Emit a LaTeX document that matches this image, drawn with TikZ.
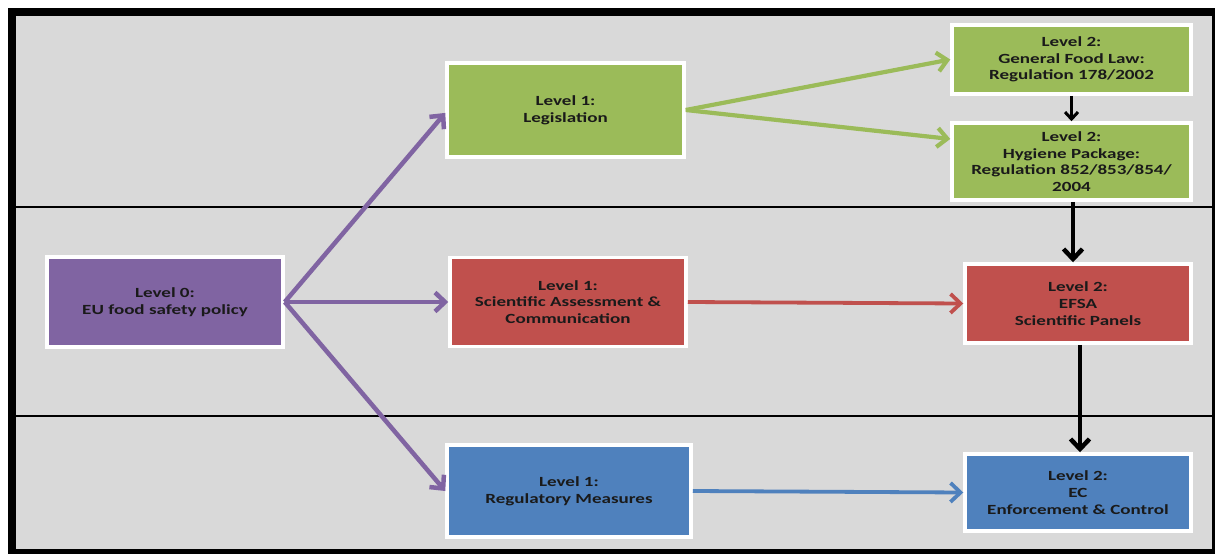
\documentclass[tikz,border=0pt]{standalone}
\usepackage{fontspec}
\setmainfont{Carlito}
\newfontfamily\lblfont[FakeStretch=1.36]{Carlito}
\usetikzlibrary{arrows.meta,shadows,calc}
\definecolor{bggrey}{HTML}{D9D9D9}
\definecolor{cgreen}{HTML}{9BBB59}
\definecolor{cred}{HTML}{C0504D}
\definecolor{cblue}{HTML}{4F81BD}
\definecolor{cpurple}{HTML}{8064A2}
\definecolor{txt}{HTML}{1A1A1A}
\tikzset{
  box/.style={draw=white, line width=3.5pt, inner sep=0pt, align=center,
    font=\lblfont\bfseries\fontsize{14}{16.7}\selectfont, text=txt,
    drop shadow={shadow xshift=1.5pt, shadow yshift=-1.8pt, opacity=0.35, fill=black}},
  conn/.style={line width=#1, -{Straight Barb[length=10pt, width=19pt]}},
  conn/.default=4.5pt,
  divider/.style={line width=2.3pt, black}
}
\begin{document}
\begin{tikzpicture}[x=1pt,y=-1pt]
\useasboundingbox (0,0) rectangle (1215,554);
\fill[white] (0,0) rectangle (1215,554);
\fill[black] (8,8) rectangle (1215,554);
\fill[bggrey] (16,16) rectangle (1212,549);
\draw[divider] (16,207) -- (1212,207);
\draw[divider] (16,416) -- (1212,416);

\node[box, fill=cpurple, minimum width=236pt, minimum height=90pt] (L0) at (165,302) {Level 0:\\EU food safety policy};
\node[box, fill=cgreen, minimum width=237pt, minimum height=94pt] (Leg) at (565.5,110) {Level 1:\\Legislation};
\node[box, fill=cred, minimum width=236pt, minimum height=89pt] (Sci) at (568,302) {Level 1:\\Scientific Assessment \&\\Communication};
\node[box, fill=cblue, minimum width=244pt, minimum height=92pt] (Reg) at (569,491) {Level 1:\\Regulatory Measures};
\node[box, fill=cgreen, minimum width=239pt, minimum height=69pt] (GFL) at (1071.5,59.5) {Level 2:\\General Food Law:\\Regulation 178/2002};
\node[box, fill=cgreen, minimum width=239pt, minimum height=77pt] (Hyg) at (1071.5,161.5) {Level 2:\\Hygiene Package:\\Regulation 852/853/854/\\2004};
\node[box, fill=cred, minimum width=226pt, minimum height=79pt] (EFSA) at (1078,303.5) {Level 2:\\EFSA\\Scientific Panels};
\node[box, fill=cblue, minimum width=226pt, minimum height=77pt] (EC) at (1078,492.5) {Level 2:\\EC\\Enforcement \& Control};

\coordinate (HygIn) at ($(Hyg.north west)!0.22!(Hyg.south west)$);
\coordinate (LegIn) at ($(Leg.north west)!0.53!(Leg.south west)$);

\draw[conn, cpurple] (L0.east) -- (LegIn);
\draw[conn, cpurple] (L0.east) -- (Sci.west);
\draw[conn, cpurple] (L0.east) -- (Reg.west);
\draw[conn=4.2pt, cgreen] (Leg.east) -- (GFL.west);
\draw[conn=4.2pt, cgreen] (Leg.east) -- (HygIn);
\draw[conn=3.8pt, cred] (Sci.east) -- (EFSA.west);
\draw[conn=3.8pt, cblue] (Reg.east) -- (EC.west);
\draw[line width=3pt, black, -{Straight Barb[length=7pt, width=13pt]}] (GFL.south) -- (Hyg.north);
\draw[conn=4.5pt, black] ([xshift=1.5pt]Hyg.south) -- ([xshift=1.5pt]Hyg.south |- EFSA.north);
\draw[conn=4.5pt, black] ([xshift=2pt]EFSA.south) -- ([xshift=2pt]EC.north);
\end{tikzpicture}
\end{document}
